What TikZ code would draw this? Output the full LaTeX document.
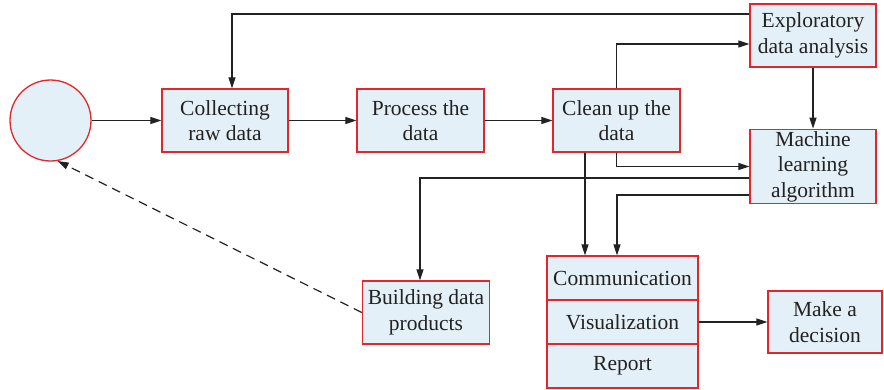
\documentclass[tikz,border=0pt]{standalone}
\usepackage{fontspec}
\setmainfont{Liberation Serif}
\usetikzlibrary{arrows.meta}
\definecolor{boxfill}{HTML}{E4F0F7}
\definecolor{boxline}{HTML}{E2262C}
\definecolor{ink}{HTML}{222222}
\begin{document}
\begin{tikzpicture}[x=1pt,y=-1pt,
  box/.style={draw=boxline, line width=1.3pt, fill=boxfill, rectangle,
    inner sep=2pt, align=center, text=ink,
    font=\fontsize{21.5}{25.5}\selectfont},
  arr/.style={draw=ink, line width=1.2pt, -{Triangle[length=11pt,width=7pt]}},
]
\useasboundingbox (0,0) rectangle (884,389);

% stages of the workflow
\node[box, circle, minimum size=81pt] (start) at (50.5,120.5) {};
\node[box, minimum width=126pt, minimum height=63pt] (collect) at (225,120.5) {Collecting\\raw data};
\node[box, minimum width=127pt, minimum height=63pt] (process) at (420.5,120.5) {Process the\\data};
\node[box, minimum width=127pt, minimum height=63pt] (clean) at (616.5,120.5) {Clean up the\\data};
\node[box, minimum width=126pt, minimum height=63pt] (eda) at (813,35.5) {Exploratory\\data analysis};
\node[box, minimum width=126pt, minimum height=73pt] (ml) at (813,166.5) {Machine\\learning\\algorithm};
\node[box, minimum width=127pt, minimum height=63pt] (build) at (426,312.5) {Building data\\products};
\node[box, minimum width=151pt, minimum height=44pt] (comm) at (622.5,278) {Communication};
\node[box, minimum width=151pt, minimum height=44pt] (vis) at (622.5,322) {Visualization};
\node[box, minimum width=151pt, minimum height=44pt] (report) at (622.5,366) {Report};
\node[box, minimum width=114pt, minimum height=62pt] (decide) at (825,322) {Make a\\decision};

% main pipeline
\draw[arr] (start) -- (collect);
\draw[arr] (collect) -- (process);
\draw[arr] (process) -- (clean);

% feedback and branches
\draw[arr] ([yshift=21.5pt]eda.west) -| ([xshift=7pt]collect.north);
\draw[arr] (clean.north) |- ([yshift=-8.5pt]eda.west);
\draw[arr] (eda.south) -- (ml.north);
\draw[arr] (clean.south) |- (ml.west);
\draw[arr] ([yshift=-11.5pt]ml.west) -| ([xshift=-6pt]build.north);
\draw[arr] ([yshift=-28.5pt]ml.west) -| ([xshift=-5.5pt]comm.north);
\draw[arr] ([xshift=-31.5pt]clean.south) -- ([xshift=-37.5pt]comm.north);
\draw[arr] (vis.east) -- (decide.west);
\draw[arr, dashed, dash pattern=on 9pt off 6pt] (build.west) -- (start.280);
\end{tikzpicture}
\end{document}
